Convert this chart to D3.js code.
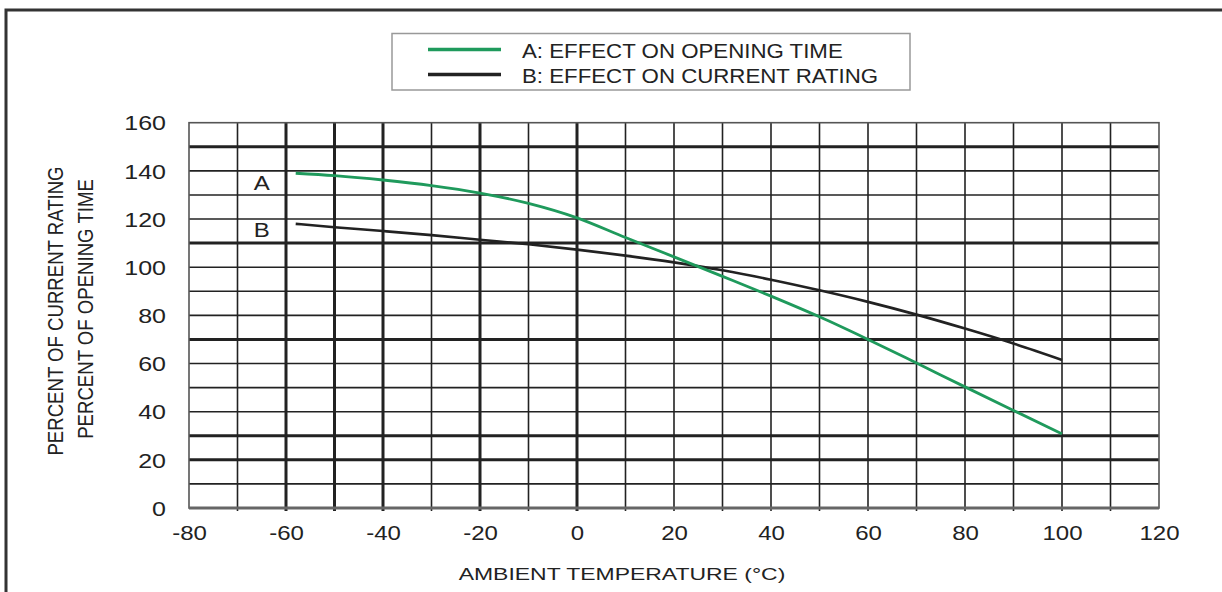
<!DOCTYPE html>
<html>
<head>
<meta charset="utf-8">
<script src="https://cdn.jsdelivr.net/npm/d3@7"></script>
<style>
  body { margin: 0; background: #fff; }
  text { font-family: "Liberation Sans", Arial, sans-serif; fill: #222; }
</style>
</head>
<body>
<script>
// chart size
var w = 1222;
var h = 592;

// data
var temps = [-58, -50, -40, -30, -20, -10, 0, 10, 20, 30, 40, 50, 60, 70, 80, 90, 100];
var openingTime = [139, 138, 136.2, 133.9, 130.8, 126.5, 120.5, 112.3, 104.3, 96.2, 88, 79.4, 70, 60.2, 50.3, 40.5, 30.8];
var currentRating = [118, 116.6, 115, 113.3, 111.4, 109.5, 107.3, 104.8, 102, 98.7, 94.8, 90.4, 85.6, 80.3, 74.5, 68.3, 61.5];
var xTicks = [-80, -60, -40, -20, 0, 20, 40, 60, 80, 100, 120];
var yTicks = [0, 20, 40, 60, 80, 100, 120, 140, 160];
var legendLabels = ["A: EFFECT ON OPENING TIME", "B: EFFECT ON CURRENT RATING"];

// heavier grid lines as they show in the scan
var heavyX = [-60, -50, -40, -20, 0];
var heavyY = [150, 110, 70, 30, 20];

var svg = d3.select("body").append("svg")
  .attr("width", w)
  .attr("height", h);

// outer frame
svg.append("rect")
  .attr("x", 6).attr("y", 10)
  .attr("width", w + 20).attr("height", h + 20)
  .attr("fill", "none")
  .attr("stroke", "#333")
  .attr("stroke-width", 3);

var x = d3.scaleLinear().domain([-80, 120]).range([189, 1159]);
var y = d3.scaleLinear().domain([0, 160]).range([508, 122.7]);

// stretch text sideways, the scan is wider than tall
var stretch = function (sel, k) {
  sel.each(function () {
    var len = this.getComputedTextLength();
    d3.select(this).attr("textLength", len * k).attr("lengthAdjust", "spacingAndGlyphs");
  });
};

// grid
var grid = svg.append("g");
grid.selectAll(".vline")
  .data(d3.range(-70, 120, 10)).enter()
  .append("line")
  .attr("x1", function (d) { return x(d); })
  .attr("x2", function (d) { return x(d); })
  .attr("y1", y(160))
  .attr("y2", y(0) + 3)
  .attr("stroke", "#222")
  .attr("stroke-width", function (d) { return heavyX.indexOf(d) >= 0 ? 3 : 1.6; });

grid.selectAll(".hline")
  .data(d3.range(10, 160, 10)).enter()
  .append("line")
  .attr("x1", x(-80))
  .attr("x2", x(120))
  .attr("y1", function (d) { return y(d); })
  .attr("y2", function (d) { return y(d); })
  .attr("stroke", "#222")
  .attr("stroke-width", function (d) { return heavyY.indexOf(d) >= 0 ? 3 : 1.6; });

grid.append("rect")
  .attr("x", x(-80)).attr("y", y(160))
  .attr("width", x(120) - x(-80))
  .attr("height", y(0) - y(160))
  .attr("fill", "none")
  .attr("stroke", "#555")
  .attr("stroke-width", 1.6);
grid.append("line")
  .attr("x1", x(-80)).attr("x2", x(120))
  .attr("y1", y(0)).attr("y2", y(0))
  .attr("stroke", "#666")
  .attr("stroke-width", 3);

// axes (labels only)
var xAxis = svg.append("g")
  .attr("transform", "translate(0," + 523 + ")")
  .call(d3.axisBottom(x).tickValues(xTicks).tickSize(0)
    .tickFormat(function (d) { return String(d); }));
xAxis.select(".domain").remove();
xAxis.selectAll("text")
  .style("font-size", "20px")
  .style("font-family", "Liberation Sans, Arial, sans-serif")
  .attr("fill", "#222")
  .attr("dy", "0.71em")
  .call(stretch, 1.2);

var yAxis = svg.append("g")
  .attr("transform", "translate(" + 166 + ",0)")
  .call(d3.axisLeft(y).tickValues(yTicks).tickSize(0));
yAxis.select(".domain").remove();
yAxis.selectAll("text")
  .attr("x", 0)
  .attr("dy", "0.36em")
  .style("font-size", "20px")
  .style("font-family", "Liberation Sans, Arial, sans-serif")
  .attr("fill", "#222")
  .call(stretch, 1.25);

// axis titles
svg.append("text")
  .attr("x", 622).attr("y", 580)
  .attr("text-anchor", "middle")
  .style("font-size", "17px")
  .text("AMBIENT TEMPERATURE (\u00B0C)")
  .call(stretch, 1.35);

var yTitle = svg.append("g");
yTitle.append("text")
  .attr("transform", "translate(63,311) scale(1.2,1) rotate(-90)")
  .attr("text-anchor", "middle")
  .style("font-size", "18.6px")
  .text("PERCENT OF CURRENT RATING");
yTitle.append("text")
  .attr("transform", "translate(93,309) scale(1.2,1) rotate(-90)")
  .attr("text-anchor", "middle")
  .style("font-size", "18.6px")
  .text("PERCENT OF OPENING TIME");

// curves
var curve = d3.line()
  .x(function (d, i) { return x(temps[i]); })
  .y(function (d) { return y(d); })
  .curve(d3.curveMonotoneX);

svg.append("path")
  .datum(currentRating)
  .attr("d", curve)
  .attr("fill", "none")
  .attr("stroke", "#222")
  .attr("stroke-width", 2.6);

svg.append("path")
  .datum(openingTime)
  .attr("d", curve)
  .attr("fill", "none")
  .attr("stroke", "#1f9a5c")
  .attr("stroke-width", 2.8);

// curve letters
svg.append("text")
  .attr("x", x(-65)).attr("y", y(132))
  .attr("text-anchor", "middle")
  .style("font-size", "20px")
  .text("A")
  .call(stretch, 1.2);
svg.append("text")
  .attr("x", x(-65)).attr("y", y(112.7))
  .attr("text-anchor", "middle")
  .style("font-size", "20px")
  .text("B")
  .call(stretch, 1.2);

// legend
var legend = svg.append("g");
legend.append("rect")
  .attr("x", 392).attr("y", 33.5)
  .attr("width", 518).attr("height", 56.5)
  .attr("fill", "#fff")
  .attr("stroke", "#999")
  .attr("stroke-width", 1.5);

var legendColors = ["#1f9a5c", "#222"];
legend.selectAll(".key")
  .data(legendLabels).enter()
  .append("line")
  .attr("x1", 428).attr("x2", 501)
  .attr("y1", function (d, i) { return 49.5 + i * 25; })
  .attr("y2", function (d, i) { return 49.5 + i * 25; })
  .attr("stroke", function (d, i) { return legendColors[i]; })
  .attr("stroke-width", 3.5);

legend.selectAll(".label")
  .data(legendLabels).enter()
  .append("text")
  .attr("x", 522)
  .attr("y", function (d, i) { return 58 + i * 25; })
  .style("font-size", "21px")
  .text(function (d) { return d; })
  .call(stretch, 1.06);
</script>
</body>
</html>
